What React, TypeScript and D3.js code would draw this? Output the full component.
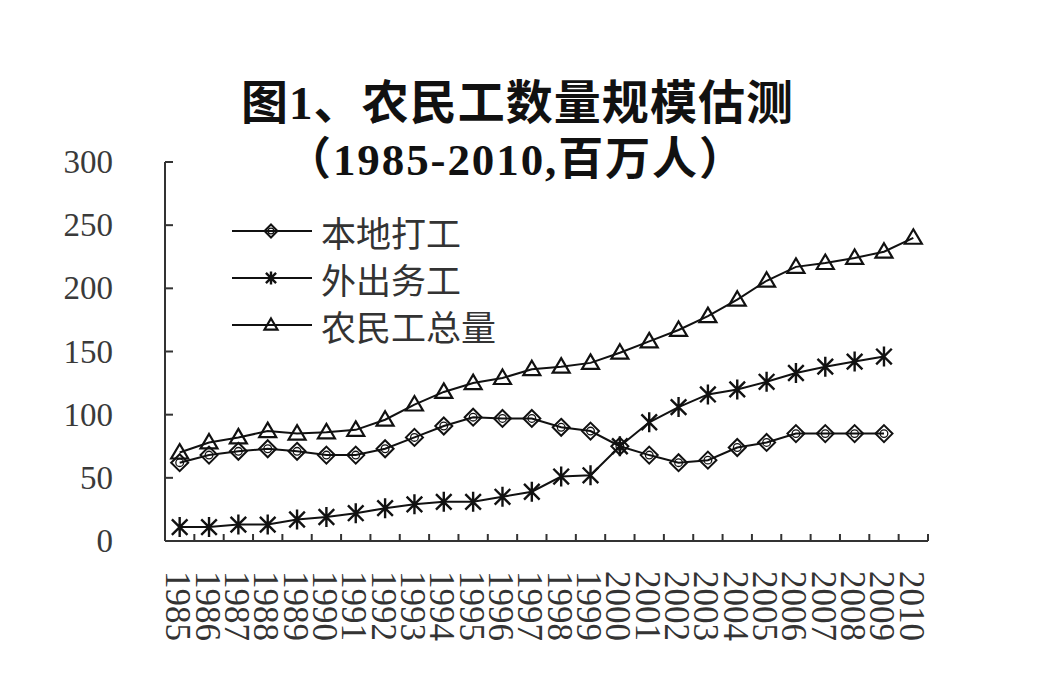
import { useEffect, useRef } from "react";
import * as d3 from "d3";

const years = d3.range(1985, 2011).map(String);
// 本地打工 (no 2010 value)
const local = [62, 68, 71, 73, 71, 68, 68, 73, 82, 91, 98, 97, 97, 90, 87, 75, 68, 62, 64, 74, 78, 85, 85, 85, 85];
// 外出务工
const migrant = [11, 11, 13, 13, 17, 19, 22, 26, 29, 31, 31, 35, 39, 51, 52, 75, 94, 106, 116, 120, 126, 133, 138, 142, 146];
// 农民工总量
const total = [70, 78, 82, 87, 85, 86, 88, 96, 108, 118, 125, 129, 136, 138, 141, 149, 158, 167, 178, 191, 206, 217, 220, 224, 229, 240];
const yTicks = [0, 50, 100, 150, 200, 250, 300];
const seriesNames = ["本地打工", "外出务工", "农民工总量"];

const W = 1057;
const H = 676;
const left = 165, right = 928, top = 162, bottom = 541;

const serif = "'Liberation Serif', 'DejaVu Serif', serif";
const cjk = "'Noto Sans CJK SC', sans-serif";
const titleFont = "'Liberation Serif', 'Noto Sans CJK SC', serif";

function drawMarker(g: any, kind: string, cx: number, cy: number, s: number) {
  if (kind === "diamond") {
    g.append("path")
      .attr("d", `M${cx},${cy - s}L${cx + s},${cy}L${cx},${cy + s}L${cx - s},${cy}Z`)
      .attr("fill", "none").attr("stroke", "#111").attr("stroke-width", 2);
    g.append("circle").attr("cx", cx).attr("cy", cy).attr("r", s * 0.45)
      .attr("fill", "none").attr("stroke", "#111").attr("stroke-width", 1.3);
  } else if (kind === "star") {
    const d = s * 0.78;
    g.append("path")
      .attr("d", `M${cx - d},${cy - d}L${cx + d},${cy + d}M${cx - d},${cy + d}L${cx + d},${cy - d}M${cx},${cy - s}L${cx},${cy + s}`)
      .attr("stroke", "#111").attr("stroke-width", 2.4);
  } else {
    g.append("path")
      .attr("d", `M${cx},${cy - s}L${cx + s},${cy + s * 0.7}L${cx - s},${cy + s * 0.7}Z`)
      .attr("fill", "none").attr("stroke", "#111").attr("stroke-width", 2.2);
  }
}

const App = () => {
  const svgRef = useRef(null);

  useEffect(() => {
    const svg = d3.select(svgRef.current);
    svg.selectAll("*").remove();

    const x = d3.scaleBand().domain(years).range([left, right]).padding(0);
    const y = d3.scaleLinear().domain([0, 300]).range([bottom, top]);
    const cx = (i: number) => (x(years[i]) as number) + x.bandwidth() / 2;

    // title
    svg.append("text").attr("x", 517).attr("y", 103)
      .attr("text-anchor", "middle").attr("dominant-baseline", "central")
      .attr("font-family", titleFont).attr("font-weight", 700).attr("font-size", 47)
      .attr("textLength", 552).attr("lengthAdjust", "spacing")
      .attr("fill", "#111").text("图1、农民工数量规模估测");
    svg.append("text").attr("x", 515).attr("y", 160)
      .attr("text-anchor", "middle").attr("dominant-baseline", "central")
      .attr("font-family", titleFont).attr("font-weight", 700).attr("font-size", 45)
      .attr("textLength", 458).attr("lengthAdjust", "spacing")
      .attr("fill", "#111").text("（1985-2010,百万人）");

    // y axis
    svg.append("line").attr("x1", left).attr("x2", left).attr("y1", top).attr("y2", bottom)
      .attr("stroke", "#333").attr("stroke-width", 2);
    yTicks.forEach(t => {
      svg.append("line").attr("x1", left).attr("x2", left + 8).attr("y1", y(t)).attr("y2", y(t))
        .attr("stroke", "#333").attr("stroke-width", 2);
      svg.append("text").attr("x", 113).attr("y", y(t))
        .attr("text-anchor", "end").attr("dominant-baseline", "central")
        .attr("font-family", serif).attr("font-size", 33).attr("fill", "#3a3a3a")
        .text(t);
    });

    // x axis
    svg.append("line").attr("x1", left).attr("x2", right).attr("y1", bottom).attr("y2", bottom)
      .attr("stroke", "#333").attr("stroke-width", 2);
    years.forEach((yr, i) => {
      const bx = (x(yr) as number) + x.bandwidth();
      svg.append("line").attr("x1", bx).attr("x2", bx).attr("y1", bottom).attr("y2", bottom - 7)
        .attr("stroke", "#333").attr("stroke-width", 2);
      svg.append("text")
        .attr("transform", `translate(${cx(i) - 2},571) rotate(90)`)
        .attr("dominant-baseline", "central")
        .attr("font-family", serif).attr("font-size", 35).attr("fill", "#333")
        .text(yr);
    });

    const line = d3.line<number>().x((_, i) => cx(i)).y(d => y(d));
    const series = [
      { data: local, kind: "diamond", size: 8.5 },
      { data: migrant, kind: "star", size: 10 },
      { data: total, kind: "triangle", size: 8.5 },
    ];
    series.forEach(s => {
      svg.append("path").attr("d", line(s.data)).attr("fill", "none")
        .attr("stroke", "#111").attr("stroke-width", 2);
      const g = svg.append("g");
      s.data.forEach((v, i) => drawMarker(g, s.kind, cx(i), y(v), s.size));
    });

    // legend
    seriesNames.forEach((name, i) => {
      const ly = 231 + i * 47;
      svg.append("line").attr("x1", 232).attr("x2", 312).attr("y1", ly).attr("y2", ly)
        .attr("stroke", "#111").attr("stroke-width", 2);
      drawMarker(svg.append("g"), series[i].kind, 271, ly, 6.5);
      svg.append("text").attr("x", 321).attr("y", ly)
        .attr("dominant-baseline", "central")
        .attr("font-family", cjk).attr("font-size", 35).attr("fill", "#333")
        .text(name);
    });
  }, []);

  return (
    <svg ref={svgRef} width={W} height={H}
      style={{ position: "absolute", left: 0, top: 0, background: "#fff" }} />
  );
};

export default App;
